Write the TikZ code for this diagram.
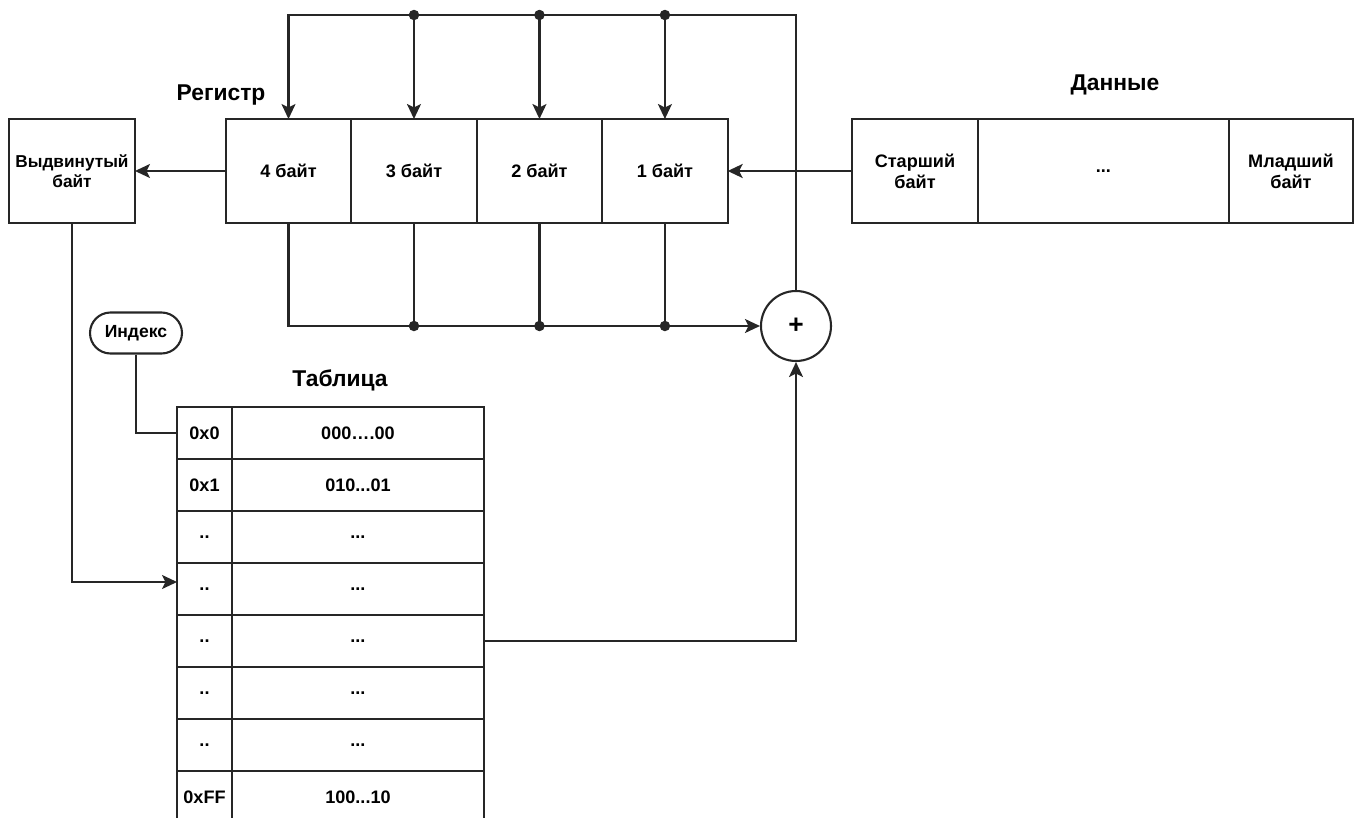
\documentclass[tikz,border=0pt]{standalone}
\usepackage{fontspec}
\setmainfont{Liberation Sans}
\usetikzlibrary{arrows.meta, positioning}
\newcommand{\celldots}{...}
\newcommand{\keydots}{..}
\tikzset{
  cell/.style={draw=black!85, line width=1.2pt, outer sep=0pt, minimum height=2.08cm, minimum width=2.51cm, align=center, font=\fontsize{10.3}{12}\selectfont\bfseries},
  tcell/.style={cell, minimum height=1.04cm},
  title/.style={font=\fontsize{13}{15}\selectfont\bfseries},
  dot/.style={circle, fill=black!85, inner sep=0pt, minimum size=0.21cm},
  arr/.style={-{Stealth[length=0.3cm, width=0.28cm, inset=0.07cm]}, line width=1.2pt, draw=black!85},
  wire/.style={line width=1.2pt, draw=black!85},
}
\begin{document}
\begin{tikzpicture}[x=0.02cm, y=-0.02cm]
    \clip (0,0) rectangle (1360,818);
    % shifted byte and register
    \node[cell, minimum width=2.52cm, font=\fontsize{9.8}{11.5}\selectfont\bfseries] (shift) at (72,171) {Выдвинутый\\байт};
    \node[cell] (r4) at (288.5,171) {4 байт};
    \node[cell, right=0pt of r4] (r3) {3 байт};
    \node[cell, right=0pt of r3] (r2) {2 байт};
    \node[cell, right=0pt of r2] (r1) {1 байт};
    \node[title] (regt) at (221,95) {Регистр};
    % data
    \node[cell, minimum width=2.52cm] (hi) at (915,171) {Старший\\байт};
    \node[cell, minimum width=5.02cm, right=0pt of hi] (mid) {\celldots};
    \node[cell, minimum width=2.48cm, right=0pt of mid] (lo) {Младший\\байт};
    \node[title] (datat) at (1115,85) {Данные};
    % xor
    \node[circle, draw=black!85, line width=1.2pt, minimum size=1.4cm, inner sep=0pt, font=\fontsize{15}{15}\selectfont\bfseries] (sum) at (796,326) {+};
    % table
    \node[title] (tabt) at (340,380) {Таблица};
    \foreach \k/\v [count=\i] in {0x0/000….00, 0x1/010\celldots01, \keydots/\celldots, \keydots/\celldots, \keydots/\celldots, \keydots/\celldots, \keydots/\celldots, 0xFF/100\celldots10} {
      \node[tcell, minimum width=1.1cm] (k\i) at (204.5,381+52*\i) {\k};
      \node[tcell, minimum width=5.04cm, right=0pt of k\i] (v\i) {\v};
    }
    \node[draw=black!85, line width=1.2pt, rounded corners=0.41cm, minimum width=1.84cm, minimum height=0.82cm, font=\fontsize{10}{12}\selectfont\bfseries] (idx) at (136,333) {Индекс};

    \coordinate (bus) at (0,15);
    \draw[arr] (r4.west) -- (shift.east);
    \draw[arr] (hi.west) -- (r1.east);
    \draw[arr] (sum.north) |- (bus -| r4.north) -- (r4.north);
    \draw[arr] (r4.south) |- (sum.west);
    \foreach \i in {3,2,1} {
      \node[dot] (t\i) at (bus -| r\i.north) {};
      \draw[arr] (t\i.center) -- (r\i.north);
      \node[dot] (b\i) at (r\i.south |- sum.west) {};
      \draw[wire] (r\i.south) -- (b\i.center);
    }
    \draw[arr] (shift.south) |- ([yshift=0.14cm]k4.west);
    \draw[wire] (idx.south) |- (k1.west);
    \draw[arr] (v5.east) -| (sum.south);
\end{tikzpicture}
\end{document}
